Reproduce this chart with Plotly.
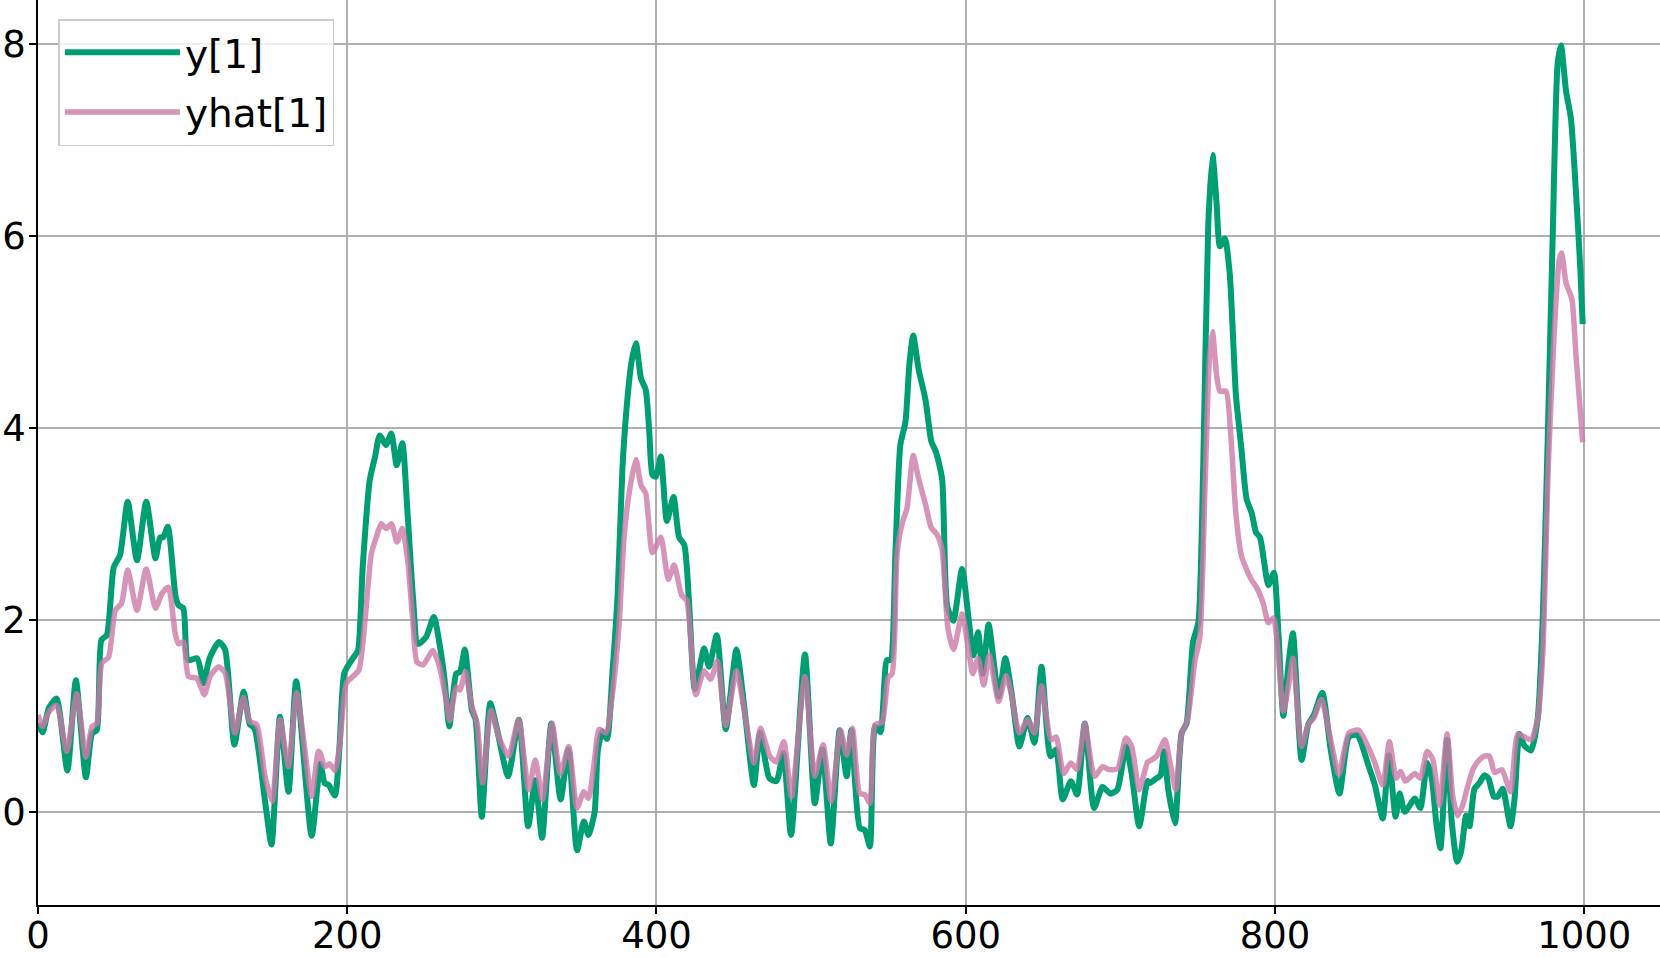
import plotly.graph_objects as go

# y[1] (x position, value)
y_x = [0, 3, 7, 12, 19, 24.5, 31, 35, 38, 41, 44.5, 49, 53, 58, 64, 70, 76, 79, 81, 84, 89, 91,
       94, 97, 103, 107, 111, 117, 121, 127, 133, 137, 140, 147, 151, 156.5, 162, 167, 177,
       182.6, 185.4, 188, 192, 195, 198, 201.6, 205, 207, 210, 214.5, 218, 221, 225, 228.5, 232, 235.6,
       239, 242.5, 245.7, 251, 256, 260, 263, 266, 270.5,
       273, 276, 280.6, 283, 287, 292.5, 297, 304, 311, 317, 321.6, 326, 332, 338, 343, 348.6, 353, 356,
       360, 362, 365, 368, 371.6, 374.8, 378, 381.3, 384, 386.7, 390, 393, 395.3, 397.4, 399.6, 402.8,
       406.7, 411, 414.6, 418, 421, 424.8, 430.8, 434, 439, 444.8,
       451.7, 457, 463, 467, 473, 477.6, 482, 487, 496, 502.4, 507.3, 512.7, 518.5, 523, 526, 531.5,
       534.7, 538, 541.4, 544.8, 549, 551.3, 554.5, 557.7, 561, 563.5, 566, 569.5, 574, 577.7, 580.7,
       584.7, 588, 592, 597.6, 602, 605, 608, 611, 614.8, 621.3, 625.6,
       630, 634.7, 640, 644.4, 649, 654.8, 658.4, 662.7, 668, 672, 677, 683, 688.5, 693.5, 698, 703.6,
       707.3, 712.2, 717.6, 719, 723.4, 726, 728.2, 731, 735.3, 739.6, 742.8, 747, 750.4, 753.6, 756.8,
       759.6, 762.2, 764.4, 767.6, 770.8, 774.7, 778.4, 781.6, 785, 787.7, 790.3, 792.9, 795.7, 799.3,
       802.2, 805.4, 809, 811.6, 817.2, 821.5, 825.2, 830.6, 836, 841.7, 847.8, 853.2, 860.7, 864.6,
       869.7, 873.6, 878, 880.6, 884, 890.5, 894, 898.4, 901.4, 904.2, 907, 911.3, 914.3, 917.8, 920.4,
       923.6, 925.8, 929, 932.2, 935.4, 938, 941.5, 944.1, 947.3, 952.3, 954.9, 958.1, 961.3, 965.6,
       969.9, 973.2, 976.4, 979.6, 982.8, 985, 988.2, 991.4, 994.7, 997.5, 999]
y_val = [0.92, 0.83, 1.08, 1.18, 0.43, 1.37, 0.36, 0.82, 0.85, 1.79, 1.84, 2.55, 2.67, 3.23, 2.62, 3.23, 2.64, 2.86, 2.86, 2.97, 2.24, 2.15,
         2.12, 1.58, 1.60, 1.34, 1.60, 1.77, 1.69, 0.70, 1.25, 0.91, 0.87, 0.09, -0.34, 0.99, 0.21, 1.36, -0.25,
         0.50, 0.30, 0.28, 0.17, 0.68, 1.44, 1.55, 1.63, 1.68, 2.55, 3.45, 3.70, 3.92, 3.82, 3.94, 3.61, 3.84,
         3.11, 2.24, 1.75, 1.82, 2.03, 1.72, 1.37, 0.89, 1.44,
         1.46, 1.69, 1.06, 0.96, -0.05, 1.13, 0.85, 0.37, 0.96, -0.15, 0.33, -0.27, 0.92, 0.13, 0.65, -0.40, -0.10, -0.24,
         0.0, 0.63, 0.84, 0.76, 1.47, 2.24, 3.59, 4.32, 4.70, 4.88, 4.51, 4.40, 3.97, 3.51, 3.49, 3.70,
         3.03, 3.28, 2.86, 2.78, 2.20, 1.28, 1.70, 1.51, 1.84, 0.86,
         1.69, 1.06, 0.28, 0.82, 0.35, 0.32, 0.61, -0.24, 1.64, 0.09, 0.65, -0.33, 0.85, 0.37, 0.85, -0.17,
         -0.19, -0.36, 0.89, 0.83, 1.58, 1.58, 2.69, 3.82, 4.06, 4.65, 4.96, 4.61, 4.29, 3.86, 3.75,
         3.47, 2.14, 1.99, 2.53, 1.99, 1.63, 1.87, 1.44, 1.95, 1.20, 1.60,
         1.20, 0.68, 0.98, 0.72, 1.51, 0.58, 0.65, 0.13, 0.32, 0.18, 0.92, 0.04, 0.26, 0.19, 0.23, 0.68,
         0.40, -0.15, 0.32, 0.30, 0.35, 0.38, 0.63, 0.23, -0.12, 0.82, 0.92, 1.77, 1.97, 3.61, 6.09,
         6.84, 6.34, 5.89, 5.97, 5.59, 4.35, 3.76, 3.26, 3.11, 2.91, 2.86, 2.61, 2.36, 2.49,
         1.87, 1.00, 1.58, 1.86, 0.54, 0.91, 1.01, 1.24, 0.65, 0.19, 0.78, 0.80, 0.47, 0.28,
         -0.07, 0.59, -0.05, 0.19, 0.0, 0.14, 0.04, 0.51, 0.35, -0.10, -0.38, 0.75, -0.10, -0.52, -0.41,
         -0.04, -0.15, 0.24, 0.30, 0.38, 0.35, 0.16, 0.16, 0.24, -0.15, 0.13, 0.81, 0.69, 0.64,
         0.97, 2.04, 3.90, 5.99, 7.79, 7.98, 7.51, 7.22, 6.44, 5.65, 5.08]

# yhat[1]
yhat_x = [0, 3, 7, 12, 18.6, 25, 31, 35, 38, 41.3, 45.6, 50, 54, 58, 64, 70, 76, 80, 84.3, 88.7, 90.8,
          94, 97.3, 102.7, 107.6, 111.3, 116.7, 121, 127.4, 132.8, 137, 141.4, 146.8, 151.5, 156.5, 162, 167.3, 177, 181.3,
          182.6, 185.4, 188.6, 192, 195, 199.4, 203.7, 207.6, 211.3, 215.6, 218.8, 222, 225.2, 228.5, 232.2, 235.6,
          239.3, 242.5, 245.1, 249, 255.4, 259.7, 264, 266.2, 270.5,
          273, 276.3, 280.6, 284, 287.5, 293, 298, 304.3, 310.8, 317.3, 321.6, 326.3, 332.4, 337.8, 343.2, 348.6, 353, 356,
          359.7, 363, 367.3, 371.6, 375.9, 379, 382.3, 386.7, 390, 393, 397.4, 402.8, 407.6, 411.4, 416.2, 419.6,
          425.4, 430.8, 435, 439.4, 444.8,
          451.7, 457, 463, 467.3, 473.3, 477.6, 482.3, 487.3, 496, 502.4, 507.7, 513, 519, 523, 526.7, 531.5,
          534.7, 538, 541.4, 545.9, 549.8, 552.4, 555.6, 558.8, 562, 566, 569.5, 574, 577.7, 581.4, 584.7,
          588.5, 592.2, 597.6, 602, 604.5, 608, 611.6, 615.2, 621.3, 626,
          629.3, 634.7, 640, 644.4, 649, 655.2, 658.4, 663.3, 668, 672, 677, 683.2, 688.5, 692.8, 698.2, 703.6,
          707.3, 712.2, 717.6, 719, 723.4, 728.8, 732.5, 735.9, 739.6, 743.3, 748.2, 751.4, 754.7, 757.5,
          759.6, 762.2, 764.4, 768.3, 771.3, 774.7, 778.4, 782, 785, 788, 792.4, 795.7, 799, 802.2, 805.4,
          809, 811.6, 817.2, 821.5, 825.2, 830, 836, 841.3, 847.8, 854.2, 860.7, 864.6, 869.7, 874, 878.4,
          881.2, 884.4, 890.5, 894, 898.4, 902, 906.4, 911.3, 915, 918.2, 921.4, 924.7, 928, 931, 935.4,
          938.7, 942, 946.7, 952.3, 957, 961.3, 965.6, 969.9, 973.2, 976.8, 980.7, 983.9, 985.4, 988.2,
          992, 994.7, 999]
yhat_val = [1.01, 0.89, 1.04, 1.11, 0.63, 1.23, 0.57, 0.89, 0.92, 1.55, 1.61, 2.10, 2.17, 2.52, 2.10, 2.53, 2.12, 2.27, 2.34, 1.86, 1.75,
            1.77, 1.41, 1.39, 1.22, 1.41, 1.51, 1.45, 0.82, 1.19, 0.94, 0.91, 0.37, 0.11, 0.96, 0.47, 1.24, 0.16, 0.63,
            0.61, 0.47, 0.50, 0.43, 0.68, 1.34, 1.41, 1.48, 1.96, 2.69, 2.86, 3.00, 2.95, 3.00, 2.81, 2.95,
            2.59, 1.96, 1.56, 1.53, 1.68, 1.51, 1.16, 0.95, 1.30,
            1.27, 1.46, 1.10, 0.92, 0.30, 1.06, 0.78, 0.58, 0.96, 0.23, 0.54, 0.13, 0.92, 0.40, 0.68, 0.04, 0.21, 0.14,
            0.51, 0.86, 0.82, 1.24, 1.97, 2.86, 3.32, 3.67, 3.40, 3.32, 2.70, 2.86, 2.42, 2.57, 2.26, 2.20,
            1.22, 1.47, 1.38, 1.57, 0.90,
            1.47, 1.03, 0.51, 0.87, 0.58, 0.52, 0.73, 0.16, 1.41, 0.37, 0.70, 0.11, 0.85, 0.59, 0.87, 0.19,
            0.18, 0.09, 0.91, 0.93, 1.40, 1.44, 2.69, 3.00, 3.16, 3.71, 3.47, 3.20, 2.96, 2.89, 2.73,
            1.91, 1.69, 2.06, 1.67, 1.44, 1.60, 1.32, 1.63, 1.15, 1.42,
            1.24, 0.82, 0.96, 0.82, 1.31, 0.75, 0.78, 0.40, 0.51, 0.44, 0.92, 0.37, 0.47, 0.44, 0.45, 0.77,
            0.68, 0.23, 0.52, 0.53, 0.58, 0.75, 0.48, 0.23, 0.82, 0.95, 1.57, 1.82, 3.36, 4.70,
            5.00, 4.55, 4.38, 4.38, 3.95, 3.11, 2.66, 2.51, 2.41, 2.34, 2.17, 1.97, 2.02, 1.62, 1.05,
            1.34, 1.60, 0.68, 0.91, 0.98, 1.17, 0.75, 0.39, 0.82, 0.85, 0.66, 0.51, 0.28, 0.73, 0.35,
            0.42, 0.32, 0.40, 0.35, 0.63, 0.55, 0.07, 0.81, 0.16, -0.04, 0.07, 0.27, 0.44, 0.52, 0.58,
            0.58, 0.41, 0.44, 0.21, 0.81, 0.78, 0.75, 0.97, 1.65, 3.62, 5.03, 5.76, 5.82, 5.51,
            5.34, 4.75, 3.85]

x_ticks = [0, 200, 400, 600, 800, 1000]
y_ticks = [0, 2, 4, 6, 8]

fig = go.Figure()
fig.add_trace(go.Scatter(x=y_x, y=y_val, mode='lines', name='y[1]', legendgroup='a',
                         line=dict(color='#009E73', width=6, shape='spline', smoothing=0.6)))
fig.add_trace(go.Scatter(x=yhat_x, y=yhat_val, mode='lines', name='yhat[1]', legendgroup='b',
                         line=dict(color='rgba(204,121,167,0.8)', width=5.5, shape='spline', smoothing=0.6)))

axis_style = dict(showgrid=True, gridcolor='#b0b0b0', gridwidth=1.5, zeroline=False,
                  showline=True, linecolor='black', linewidth=1.5, mirror=True,
                  ticks='outside', ticklen=7, tickwidth=1.5, tickcolor='black',
                  tickfont=dict(size=37, color='black'))
fig.update_xaxes(range=[0, 1049], tickvals=x_ticks, ticklabelstandoff=-10, **axis_style)
fig.update_yaxes(range=[-0.97, 8.455], tickvals=y_ticks, ticklabelstandoff=-4, **axis_style)

fig.update_layout(
    width=1660, height=958,
    margin=dict(l=38, r=0, t=0, b=53, pad=0, autoexpand=False),
    paper_bgcolor='white', plot_bgcolor='white',
    font=dict(family='DejaVu Sans', color='black'),
    legend=dict(x=0.0126, y=0.979, xanchor='left', yanchor='top',
                bgcolor='rgba(255,255,255,0.8)', bordercolor='#cccccc', borderwidth=1.5,
                font=dict(size=39), itemwidth=115, tracegroupgap=6),
)

# drop the browser's default page margin so the figure sits at the window corner
fig.write_html("out.html", config={'displayModeBar': False},
               post_script="document.body.style.margin='0';")
